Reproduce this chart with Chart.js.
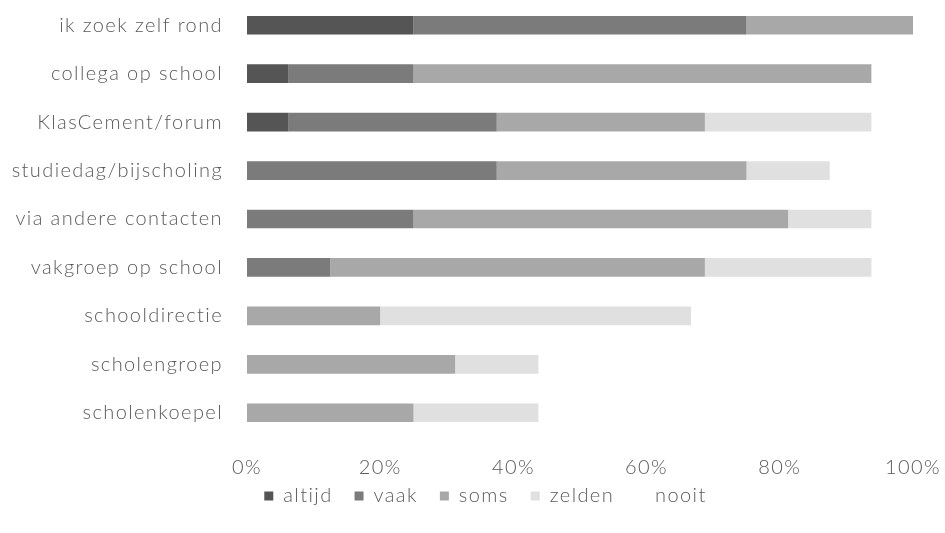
<!DOCTYPE html>
<html>
<head>
<meta charset="utf-8">
<script src="https://cdn.jsdelivr.net/npm/chart.js@4"></script>
<style>
  html, body { margin: 0; padding: 0; background: #ffffff; }
  #wrap { width: 945px; height: 533px; }
</style>
</head>
<body>
<div id="wrap"><canvas id="c" width="945" height="533"></canvas></div>
<script>
// Sources of lesmateriaal, share of answers per frequency (%)
const categories = [
  'ik zoek zelf rond',
  'collega op school',
  'KlasCement/forum',
  'studiedag/bijscholing',
  'via andere contacten',
  'vakgroep op school',
  'schooldirectie',
  'scholengroep',
  'scholenkoepel'
];
const seriesNames = ['altijd', 'vaak', 'soms', 'zelden', 'nooit'];
const altijd = [25, 6.25, 6.25, 0, 0, 0, 0, 0, 0];
const vaak   = [50, 18.75, 31.25, 37.5, 25, 12.5, 0, 0, 0];
const soms   = [25, 68.75, 31.25, 37.5, 56.25, 56.25, 20, 31.25, 25];
const zelden = [0, 0, 25, 12.5, 12.5, 25, 46.67, 12.5, 18.75];
const nooit  = [0, 0, 0, 0, 0, 0, 0, 0, 0];
const tickValues = [0, 20, 40, 60, 80, 100];

const seriesColors = ['#555555', '#7b7b7b', '#a8a8a8', '#e0e0e0', '#ffffff'];
const seriesValues = [altijd, vaak, soms, zelden, nooit];

const textColor = '#5a5a5a';
const fontFamily = 'Lato, "Open Sans", "Liberation Sans", sans-serif';
const tracking = '1.4px';

// Wide letter spacing for all chart text
const letterTracking = {
  id: 'letterTracking',
  beforeUpdate(chart) { chart.ctx.letterSpacing = tracking; },
  beforeLayout(chart) { chart.ctx.letterSpacing = tracking; },
  beforeDraw(chart) { chart.ctx.letterSpacing = tracking; }
};

// Places the legend row: a little right of centre and closer to the axis labels
const legendShift = {
  id: 'legendShift',
  afterLayout(chart) {
    const lg = chart.legend;
    if (lg) { lg.left += 29; lg.right += 29; lg.top -= 17; lg.bottom -= 17; }
  }
};

new Chart(document.getElementById('c'), {
  type: 'bar',
  data: {
    labels: categories,
    datasets: seriesNames.map((name, i) => ({
      label: name,
      data: seriesValues[i],
      backgroundColor: seriesColors[i],
      borderWidth: 0,
      barPercentage: 0.385,
      categoryPercentage: 1
    }))
  },
  options: {
    indexAxis: 'y',
    responsive: false,
    animation: false,
    layout: { padding: { top: 1, right: 32, bottom: 0, left: 0 } },
    scales: {
      x: {
        stacked: true,
        min: 0,
        max: 100,
        afterBuildTicks(axis) { axis.ticks = tickValues.map(v => ({ value: v })); },
        afterFit(s) { s.height = 44; s.paddingLeft = 0; s.paddingRight = 0; },
        grid: { display: false, drawTicks: false },
        border: { display: false },
        ticks: {
          padding: 19,
          maxRotation: 0,
          color: textColor,
          font: { family: fontFamily, size: 20, weight: '300' },
          callback: v => v + '%'
        }
      },
      y: {
        stacked: true,
        afterFit(s) { s.width = 247; s.paddingTop = 0; s.paddingBottom = 0; },
        grid: { display: false, drawTicks: false },
        border: { display: false },
        ticks: {
          padding: 24,
          color: textColor,
          font: { family: fontFamily, size: 20, weight: '300' }
        }
      }
    },
    plugins: {
      legend: {
        position: 'bottom',
        labels: {
          boxWidth: 9,
          boxHeight: 9,
          padding: 22,
          color: textColor,
          font: { family: fontFamily, size: 20, weight: '300' }
        }
      },
      tooltip: { enabled: false }
    }
  },
  plugins: [letterTracking, legendShift]
});
</script>
</body>
</html>
